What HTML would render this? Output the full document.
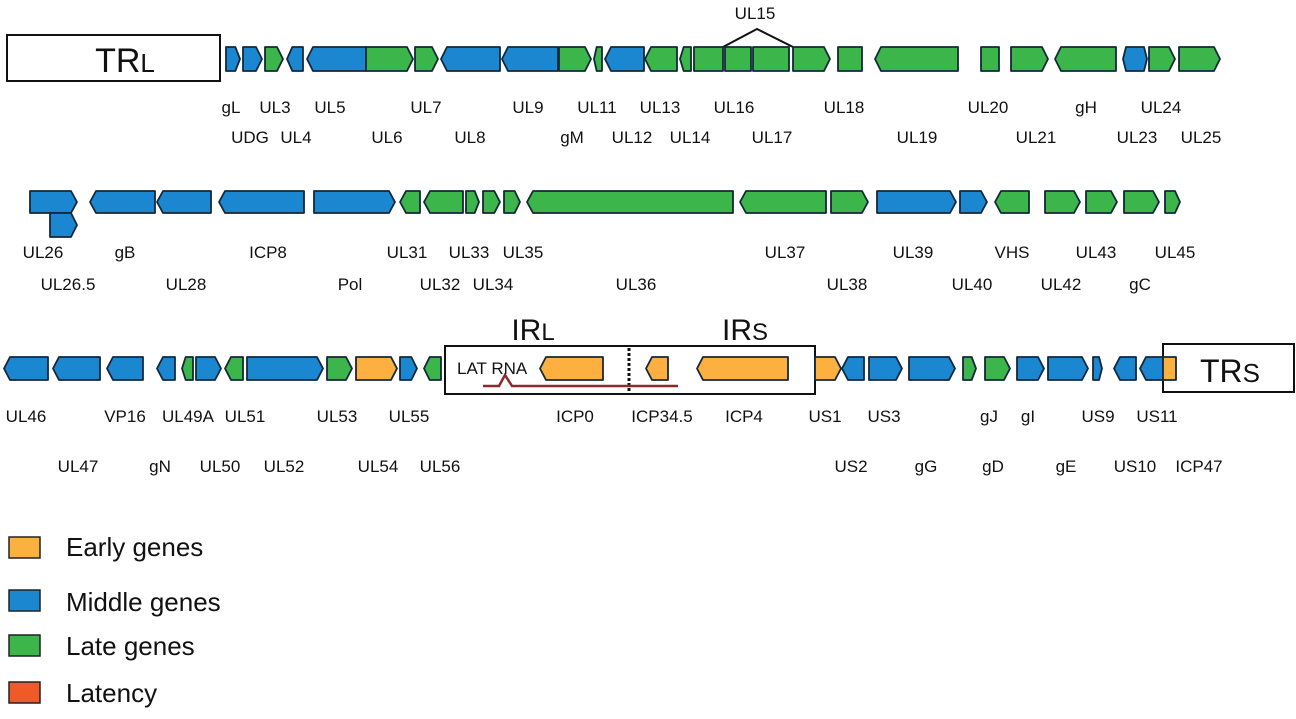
<!DOCTYPE html>
<html><head><meta charset="utf-8"><style>
body{margin:0;background:#fff;width:1296px;height:714px;overflow:hidden}
svg text{font-family:"Liberation Sans",sans-serif;fill:#111}
.l{font-size:17px;text-anchor:middle}
</style></head><body>
<svg id="s" width="1296" height="714" xmlns="http://www.w3.org/2000/svg">
<rect x="7" y="35" width="213" height="46" fill="#fff" stroke="#111" stroke-width="2"/>
<text x="125" y="72" font-size="34" text-anchor="middle">TR<tspan font-size="26">L</tspan></text>
<polyline points="723,47 757,29 793,47" fill="none" stroke="#111" stroke-width="2"/>
<text class="l" x="755" y="19">UL15</text>
<rect x="445" y="346" width="370" height="48" fill="#fff" stroke="#111" stroke-width="2"/>
<rect x="1163" y="344" width="131" height="48" fill="#fff" stroke="#111" stroke-width="2"/>
<text x="1230" y="382" font-size="32" text-anchor="middle">TR<tspan font-size="26">S</tspan></text>
<text x="533" y="340" font-size="30" text-anchor="middle">IR<tspan font-size="24">L</tspan></text>
<text x="745" y="340" font-size="30" text-anchor="middle">IR<tspan font-size="24">S</tspan></text>
<line x1="629" y1="348" x2="629" y2="392" stroke="#111" stroke-width="3" stroke-dasharray="3,2"/>
<polyline points="483,386 499,386 505,375 512,386 678,386" fill="none" stroke="#8b2a2a" stroke-width="2.5"/>
<text x="457" y="374" font-size="17">LAT RNA</text>
<g id="g"></g>
<g class="l">
<text class="l" x="231" y="113">gL</text><text class="l" x="275" y="113">UL3</text><text class="l" x="330" y="113">UL5</text><text class="l" x="426" y="113">UL7</text><text class="l" x="528" y="113">UL9</text><text class="l" x="597" y="113">UL11</text><text class="l" x="660" y="113">UL13</text><text class="l" x="734" y="113">UL16</text><text class="l" x="844" y="113">UL18</text><text class="l" x="988" y="113">UL20</text><text class="l" x="1086" y="113">gH</text><text class="l" x="1161" y="113">UL24</text>
<text class="l" x="250" y="143">UDG</text><text class="l" x="296" y="143">UL4</text><text class="l" x="387" y="143">UL6</text><text class="l" x="470" y="143">UL8</text><text class="l" x="572" y="143">gM</text><text class="l" x="632" y="143">UL12</text><text class="l" x="690" y="143">UL14</text><text class="l" x="772" y="143">UL17</text><text class="l" x="917" y="143">UL19</text><text class="l" x="1036" y="143">UL21</text><text class="l" x="1137" y="143">UL23</text><text class="l" x="1201" y="143">UL25</text>
<text class="l" x="43" y="258">UL26</text><text class="l" x="125" y="258">gB</text><text class="l" x="268" y="258">ICP8</text><text class="l" x="407" y="258">UL31</text><text class="l" x="469" y="258">UL33</text><text class="l" x="523" y="258">UL35</text><text class="l" x="785" y="258">UL37</text><text class="l" x="913" y="258">UL39</text><text class="l" x="1012" y="258">VHS</text><text class="l" x="1096" y="258">UL43</text><text class="l" x="1175" y="258">UL45</text>
<text class="l" x="68" y="290">UL26.5</text><text class="l" x="186" y="290">UL28</text><text class="l" x="350" y="290">Pol</text><text class="l" x="440" y="290">UL32</text><text class="l" x="493" y="290">UL34</text><text class="l" x="636" y="290">UL36</text><text class="l" x="847" y="290">UL38</text><text class="l" x="972" y="290">UL40</text><text class="l" x="1061" y="290">UL42</text><text class="l" x="1140" y="290">gC</text>
<text class="l" x="26" y="422">UL46</text><text class="l" x="125" y="422">VP16</text><text class="l" x="188" y="422">UL49A</text><text class="l" x="245" y="422">UL51</text><text class="l" x="337" y="422">UL53</text><text class="l" x="409" y="422">UL55</text><text class="l" x="575" y="422">ICP0</text><text class="l" x="662" y="422">ICP34.5</text><text class="l" x="744" y="422">ICP4</text><text class="l" x="825" y="422">US1</text><text class="l" x="884" y="422">US3</text><text class="l" x="989" y="422">gJ</text><text class="l" x="1028" y="422">gI</text><text class="l" x="1098" y="422">US9</text><text class="l" x="1157" y="422">US11</text>
<text class="l" x="78" y="472">UL47</text><text class="l" x="160" y="472">gN</text><text class="l" x="220" y="472">UL50</text><text class="l" x="284" y="472">UL52</text><text class="l" x="378" y="472">UL54</text><text class="l" x="440" y="472">UL56</text><text class="l" x="851" y="472">US2</text><text class="l" x="926" y="472">gG</text><text class="l" x="993" y="472">gD</text><text class="l" x="1066" y="472">gE</text><text class="l" x="1135" y="472">US10</text><text class="l" x="1199" y="472">ICP47</text>
</g>
<rect x="9" y="537" width="31" height="21" fill="#fbb040" stroke="#222" stroke-width="1.5"/>
<rect x="9" y="590" width="31" height="21" fill="#1b87d0" stroke="#222" stroke-width="1.5"/>
<rect x="9" y="635" width="31" height="21" fill="#3cb54a" stroke="#222" stroke-width="1.5"/>
<rect x="9" y="682" width="31" height="21" fill="#f05a28" stroke="#222" stroke-width="1.5"/>
<text x="66" y="556" font-size="26">Early genes</text>
<text x="66" y="611" font-size="26">Middle genes</text>
<text x="66" y="655" font-size="26">Late genes</text>
<text x="66" y="702" font-size="26">Latency</text>
</svg>
<script>
var C={b:"#1b87d0",g:"#3cb54a",o:"#fbb040"};
var G=[
[47,71,[[226,240,'R','b'],[243,262,'R','b'],[265,283,'R','g'],[287,303,'L','b'],[307,366,'L','b'],[366,413,'R','g'],[415,438,'R','g'],[441,500,'L','b'],[502,558,'L','b'],[559,591,'R','g'],[594,602,'L','g'],[605,644,'L','b'],[645,677,'L','g'],[680,691,'L','g'],[694,723,'N','g'],[725,751,'N','g'],[753,789,'N','g'],[793,830,'R','g'],[838,862,'N','g'],[875,958,'L','g'],[981,999,'N','g'],[1011,1048,'R','g'],[1055,1116,'L','g'],[1123,1147,'B','b'],[1149,1175,'R','g'],[1179,1220,'R','g']]],
[191,213,[[30,77,'R','b'],[90,155,'L','b'],[157,211,'L','b'],[219,304,'L','b'],[314,395,'R','b'],[400,420,'L','g'],[424,463,'L','g'],[466,479,'R','g'],[483,500,'R','g'],[504,520,'R','g'],[527,733,'L','g'],[740,826,'L','g'],[831,868,'R','g'],[877,956,'R','b'],[960,987,'R','b'],[995,1029,'L','g'],[1045,1080,'R','g'],[1086,1117,'R','g'],[1124,1159,'R','g'],[1165,1180,'R','g']]],
[213,237,[[50,77,'R','b']]],
[357,380,[[4,48,'L','b'],[53,100,'L','b'],[107,143,'L','b'],[157,175,'L','b'],[182,193,'L','g'],[196,221,'R','b'],[225,243,'L','g'],[247,323,'R','b'],[327,352,'R','g'],[356,397,'R','o'],[400,417,'R','b'],[424,441,'L','g'],[540,603,'L','o'],[646,668,'L','o'],[697,788,'L','o'],[815,841,'R','o'],[842,864,'L','b'],[869,902,'R','b'],[909,955,'R','b'],[963,976,'R','g'],[985,1010,'R','g'],[1017,1044,'R','b'],[1048,1088,'R','b'],[1093,1102,'R','b'],[1114,1136,'L','b'],[1140,1163,'L','b'],[1163,1176,'N','o']]]];
var h='';
G.forEach(function(r){var y1=r[0],y2=r[1],m=(y1+y2)/2;r[2].forEach(function(g){
var a=g[0],b=g[1],t=Math.min(6,(b-a)/3),p;
if(g[2]=='R')p=[[a,y1],[b-t,y1],[b,m],[b-t,y2],[a,y2]];
else if(g[2]=='L')p=[[a+t,y1],[b,y1],[b,y2],[a+t,y2],[a,m]];
else if(g[2]=='B')p=[[a+t/2,y1],[b-t/2,y1],[b,m],[b-t/2,y2],[a+t/2,y2],[a,m]];
else p=[[a,y1],[b,y1],[b,y2],[a,y2]];
h+='<polygon points="'+p.map(function(q){return q.join(',')}).join(' ')+'" fill="'+C[g[3]]+'" stroke="#13283a" stroke-width="1.8" stroke-linejoin="round"/>';});});
document.getElementById('g').innerHTML=h;
</script>
</body></html>
